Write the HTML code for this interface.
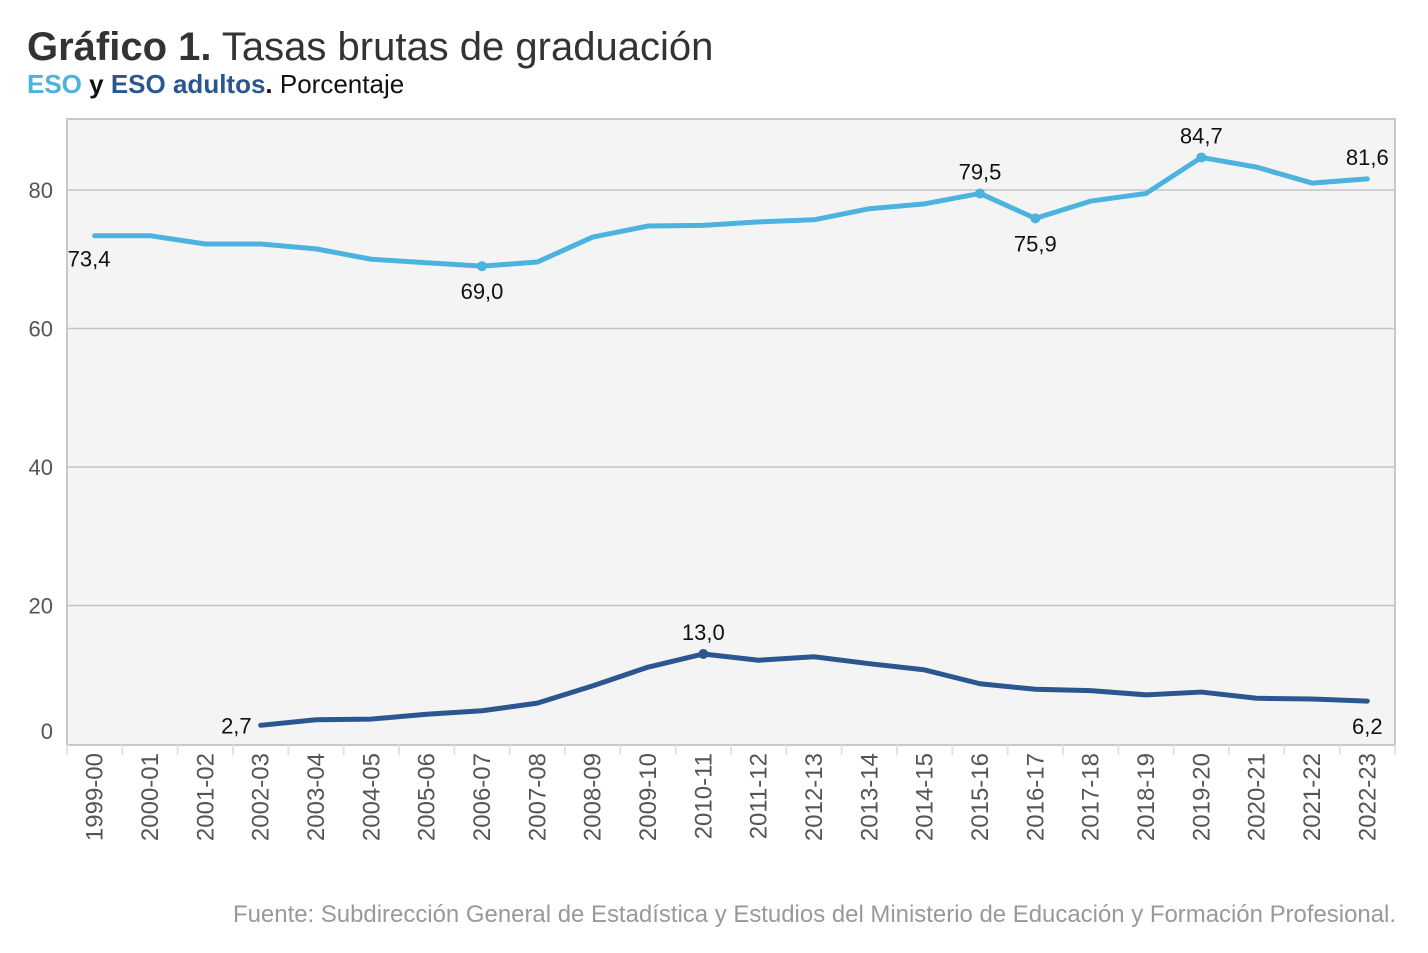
<!DOCTYPE html>
<html><head><meta charset="utf-8"><style>
body{margin:0;background:#fff;font-family:"Liberation Sans",Arial,sans-serif;}
svg{display:block}
</style></head><body>
<svg width="1428" height="953" viewBox="0 0 1428 953" xmlns="http://www.w3.org/2000/svg">
<text x="27" y="60" font-size="40" fill="#333"><tspan font-weight="bold">Gráfico 1.</tspan> Tasas brutas de graduación</text>
<text x="27" y="93" font-size="26"><tspan font-weight="bold" fill="#4cb3de">ESO</tspan><tspan font-weight="bold" fill="#111"> y </tspan><tspan font-weight="bold" fill="#2c5690">ESO adultos</tspan><tspan font-weight="bold" fill="#111">.</tspan><tspan fill="#111"> Porcentaje</tspan></text>
<g id="plot"></g>
<text x="1396" y="922" font-size="24" fill="#999" text-anchor="end" textLength="1163" lengthAdjust="spacingAndGlyphs">Fuente: Subdirección General de Estadística y Estudios del Ministerio de Educación y Formación Profesional.</text>
</svg>
<script>
const categories=["1999-00","2000-01","2001-02","2002-03","2003-04","2004-05","2005-06","2006-07","2007-08","2008-09","2009-10","2010-11","2011-12","2012-13","2013-14","2014-15","2015-16","2016-17","2017-18","2018-19","2019-20","2020-21","2021-22","2022-23"];
const esoValues=[73.4,73.4,72.2,72.2,71.5,70.0,69.5,69.0,69.6,73.2,74.8,74.9,75.4,75.7,77.3,78.0,79.5,75.9,78.4,79.5,84.7,83.3,81.0,81.6];
const adultValues=[null,null,null,2.7,3.5,3.6,4.3,4.8,5.9,8.4,11.1,13.0,12.1,12.6,11.6,10.7,8.7,7.9,7.7,7.1,7.5,6.6,6.5,6.2];
const yTicks=[0,20,40,60,80];
const esoLabels=[[0,"73,4","below-right"],[7,"69,0","below"],[16,"79,5","above"],[17,"75,9","below"],[20,"84,7","above"],[23,"81,6","above"]];
const adultLabels=[[3,"2,7","left"],[11,"13,0","above"],[23,"6,2","below"]];

const NS="http://www.w3.org/2000/svg";
const L=67,R=1395,T=119,B=745,Y0=744,PX=6.925;
const bw=(R-L)/categories.length;
const xs=i=>L+bw*(i+0.5);
const ys=v=>Y0-v*PX;
const g=document.getElementById('plot');
function mk(tag,at,parent){const e=document.createElementNS(NS,tag);for(const k in at)e.setAttribute(k,at[k]);(parent||g).appendChild(e);return e;}

const bg=mk('rect',{x:L,y:T,width:R-L,height:B-T,fill:'#f4f4f4',stroke:'#c8c8c8','stroke-width':2});


yTicks.forEach(v=>{
  if(v>0){const ln=mk('line',{x1:L,x2:R,y1:ys(v),y2:ys(v),stroke:'#c4c4c4','stroke-width':1.5});
  
  }
  const t=mk('text',{x:53,y:(v===0?731:ys(v))+8,'font-size':22,fill:'#555','text-anchor':'end'});
  t.textContent=v;
  
  
});
for(let i=0;i<=categories.length;i++){
  const tk=mk('line',{x1:L+bw*i,x2:L+bw*i,y1:B,y2:B+10,stroke:'#e4e4e4','stroke-width':2});
  
  
}
categories.forEach((c,i)=>{
  const t=mk('text',{x:0,y:0,'font-size':24,fill:'#555','text-anchor':'end',transform:`translate(${xs(i)+8},753) rotate(-90)`});
  t.textContent=c;
  
  
});
function series(vals,color,name,labels){
  let d='';vals.forEach((v,i)=>{if(v==null)return;d+=(d?'L':'M')+xs(i)+','+ys(v);});
  const p=mk('path',{d:d,fill:'none',stroke:color,'stroke-width':5,'stroke-linejoin':'round','stroke-linecap':'round'});
  
  
  labels.forEach(([i,txt,pos])=>{
    const x=xs(i),y=ys(vals[i]);
    if(i!==0&&i!==categories.length-1&&pos!=='left'){const c=mk('circle',{cx:x,cy:y,r:5,fill:color});
    
    }
    let tx=x,ty=y,anc='middle';
    if(pos==='above')ty=y-14;
    if(pos==='below')ty=y+33;
    if(pos==='below-right'){tx=x-27;ty=y+31;anc='start';}
    if(pos==='left'){tx=x-9;ty=y+8;anc='end';}
    const t=mk('text',{x:tx,y:ty,'font-size':22,fill:'#111','text-anchor':anc});
    t.textContent=txt;
    
    
  });
}
series(esoValues,'#4cb3de','eso',esoLabels);
series(adultValues,'#2c5690','eso-adultos',adultLabels);
</script>
</body></html>
